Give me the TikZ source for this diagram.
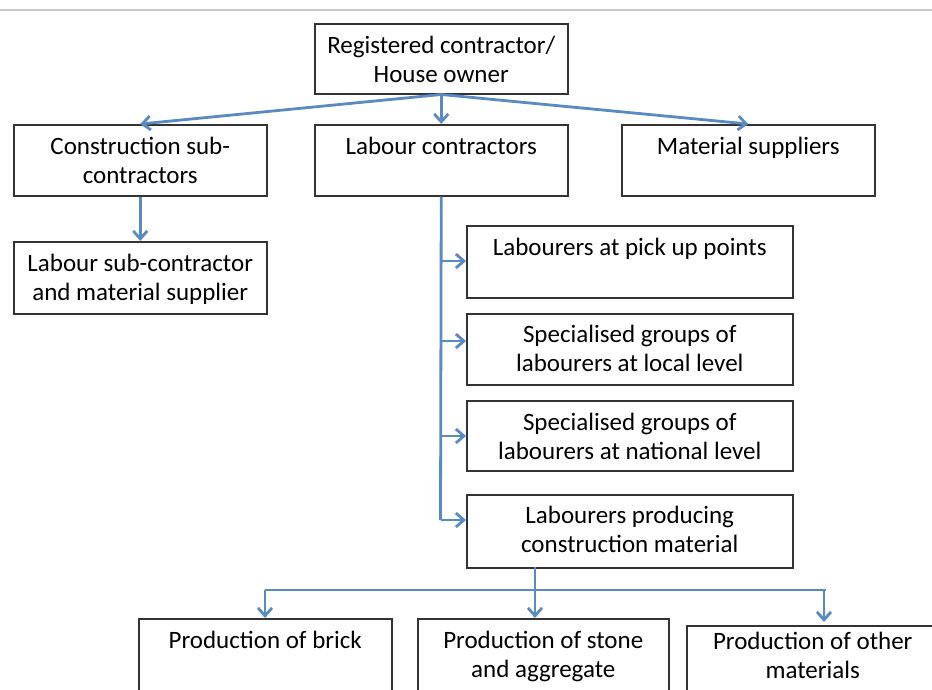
\documentclass[tikz,border=0pt]{standalone}
\usepackage{fontspec}
\setmainfont{Carlito}
\usetikzlibrary{arrows.meta,calc}
\definecolor{arrowblue}{RGB}{88,138,196}
\definecolor{rulegrey}{RGB}{200,200,200}
\begin{document}
\begin{tikzpicture}[x=1pt,y=-1pt,
  box/.style={draw=black!80,line width=1.5pt,minimum width=253pt,minimum height=71pt,inner sep=0pt,anchor=north west},
  lbl/.style={font=\fontsize{25}{29}\selectfont,align=center,inner sep=0pt,anchor=base},
  conn/.style={draw=arrowblue,line width=2.8pt,-{Straight Barb[length=8pt,width=14pt]}},
  trunk/.style={draw=arrowblue,line width=2.8pt}]
\useasboundingbox (0,0) rectangle (932,689);
\fill[white] (0,0) rectangle (932,689);
\draw[rulegrey,line width=1.5pt] (0,10) -- (932,10);
% boxes
\node[box,minimum height=70pt] (reg) at (314,23) {};
\node[box] (cs) at (13,124) {};
\node[box] (lc) at (314,124) {};
\node[box] (ms) at (621,124) {};
\node[box,minimum height=72pt] (ls) at (13,241) {};
\node[box,minimum width=326pt,minimum height=72pt] (p1) at (466,225) {};
\node[box,minimum width=326pt] (p2) at (466,313) {};
\node[box,minimum width=326pt,minimum height=70pt] (p3) at (466,400) {};
\node[box,minimum width=326pt,minimum height=73pt] (p4) at (466,494) {};
\node[box,minimum height=80pt] (b1) at (138,618) {};
\node[box,minimum width=251pt,minimum height=80pt] (b2) at (417,618) {};
\node[box,minimum width=252pt,minimum height=80pt] (b3) at (686,625) {};
% labels (base anchor = baseline of last line)
\node[lbl] (treg) at ($(reg.north)+(0,59)$) {Registered contractor/\\House owner};
\node[lbl] (tcs) at ($(cs.north)+(0,59)$) {Construction sub-\\contractors};
\node[lbl] (tlc) at ($(lc.north)+(0,30)$) {Labour contractors};
\node[lbl] (tms) at ($(ms.north)+(0,30)$) {Material suppliers};
\node[lbl] (tls) at ($(ls.north)+(0,59)$) {Labour sub-contractor\\and material supplier};
\node[lbl] (tp1) at ($(p1.north)+(0,30)$) {Labourers at pick up points};
\node[lbl] (tp2) at ($(p2.north)+(0,58)$) {Specialised groups of\\labourers at local level};
\node[lbl] (tp3) at ($(p3.north)+(0,59)$) {Specialised groups of\\labourers at national level};
\node[lbl] (tp4) at ($(p4.north)+(0,58)$) {Labourers producing\\construction material};
\node[lbl] (tb1) at ($(b1.north)+(0,30)$) {Production of brick};
\node[lbl] (tb2) at ($(b2.north)+(0,59)$) {Production of stone\\and aggregate};
\node[lbl] (tb3) at ($(b3.north)+(0,53)$) {Production of other\\materials};
% connectors
\draw[conn] (reg.south) -- (cs.north);
\draw[conn] (reg.south) -- (lc.north);
\draw[conn] (reg.south) -- (ms.north);
\draw[conn] (cs.south) -- (ls.north);
\coordinate (j1) at (440.5,261);
\coordinate (j2) at (440.5,341);
\coordinate (j3) at (440.5,436);
\coordinate (j4) at (440.5,520);
\draw[trunk] (lc.south) -- (j4);
\draw[conn] (j1) -- (j1 -| p1.west);
\draw[conn] (j2) -- (j2 -| p2.west);
\draw[conn] (j3) -- (j3 -| p3.west);
\draw[conn] (j4) -- (j4 -| p4.west);
\coordinate (k0) at (535,567);
\coordinate (k1) at (535,590);
\coordinate (kl) at (265,590);
\coordinate (kr) at (826,590);
\coordinate (kr2) at (824,590);
\draw[trunk] (k0) -- (k1);
\draw[trunk] (kl) -- (kr);
\draw[conn] (kl) -- (kl |- b1.north);
\draw[conn] (k1) -- (k1 |- b2.north);
\draw[conn] (kr2) -- ($(kr2 |- b3.north)+(0,-3)$);
\end{tikzpicture}
\end{document}
